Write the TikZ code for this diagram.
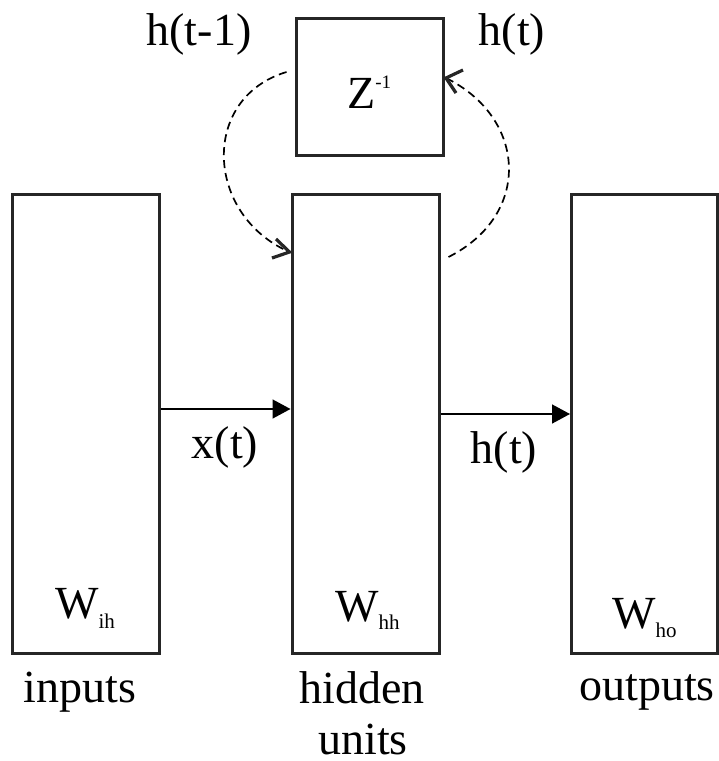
\documentclass[tikz,border=0pt]{standalone}
\usepackage{fontspec}
\setmainfont{Liberation Serif}
\usetikzlibrary{arrows.meta,calc}
\tikzset{
  unitbox/.style={draw=black!85, line width=3pt, inner sep=0pt, minimum width=147pt},
  lbl/.style={inner sep=0pt, anchor=base, font=\fontsize{46}{54}\selectfont},
  lblw/.style={inner sep=0pt, anchor=base west, font=\fontsize{46}{54}\selectfont},
  flow/.style={line width=1.5pt, -{Triangle[length=18pt,width=19pt]}},
  recur/.style={line width=1.7pt, dash pattern=on 8pt off 5pt},
  barb/.style={solid, draw=black!85, line width=3.2pt, line join=miter, line cap=butt}
}
\newcommand{\subtxt}[2]{\raisebox{-#1pt}{\fontsize{21}{21}\selectfont #2}}
\begin{document}
\begin{tikzpicture}[x=1pt,y=-1pt]
\useasboundingbox (0,0) rectangle (719,761);
% boxes
\node[unitbox, minimum height=459pt] (inputs) at (85.5,423.5) {};
\node[unitbox, minimum height=459pt] (hidden) at (365.5,423.5) {};
\node[unitbox, minimum height=459pt, minimum width=146pt] (outputs) at (644.5,423.5) {};
\node[unitbox, minimum height=137pt] (zbox) at (369.5,86.5) {};
% Z^-1
\node[lblw] (lz) at (347,108) {Z\raisebox{20pt}{\fontsize{19}{19}\selectfont -1}};
% weights
\node[lblw] (lwih) at (55,618) {W\subtxt{10}{ih}};
\node[lblw] (lwhh) at (335,621) {W\subtxt{8}{hh}};
\node[lblw] (lwho) at (612,628) {W\subtxt{9}{ho}};
% captions
\node[lbl] (lin) at (80,702) {inputs};
\node[lbl] (lhid) at (362,703) {hidden};
\node[lbl] (lunits) at (363,754) {units};
\node[lbl] (lout) at (647,700) {outputs};
% signal labels
\node[lbl] (lxt) at (225,458) {x(t)};
\node[lbl] (lht) at (504,463) {h(t)};
\node[lbl] (lhtm) at (199,45) {h(t-1)};
\node[lbl] (lhttop) at (512,45) {h(t)};
% forward arrows
\draw[flow] ([yshift=14.5pt]inputs.east) -- ([yshift=14.5pt]hidden.west);
\draw[flow] ([yshift=9.5pt]hidden.east) -- ([yshift=9.5pt]outputs.west);
% recurrent loop
\coordinate (ls) at ([xshift=-8pt,yshift=14.5pt]zbox.west);
\coordinate (le) at ([xshift=-1pt,yshift=171.5pt]hidden.west);
\coordinate (rs) at ([xshift=8pt,yshift=166.5pt]hidden.east);
\coordinate (re) at ([xshift=1.5pt,yshift=8.5pt]zbox.east);
\draw[recur] (ls) .. controls (200,98) and (205,215) .. (le);
\draw[recur] (rs) .. controls (532,215) and (527,118) .. (re);
\draw[barb] ($(le)+(-17.5,6)$) -- (le) -- ($(le)+(-13.5,-13)$);
\draw[barb] ($(re)+(17,-8)$) -- (re) -- ($(re)+(10,15)$);
\end{tikzpicture}
\end{document}
